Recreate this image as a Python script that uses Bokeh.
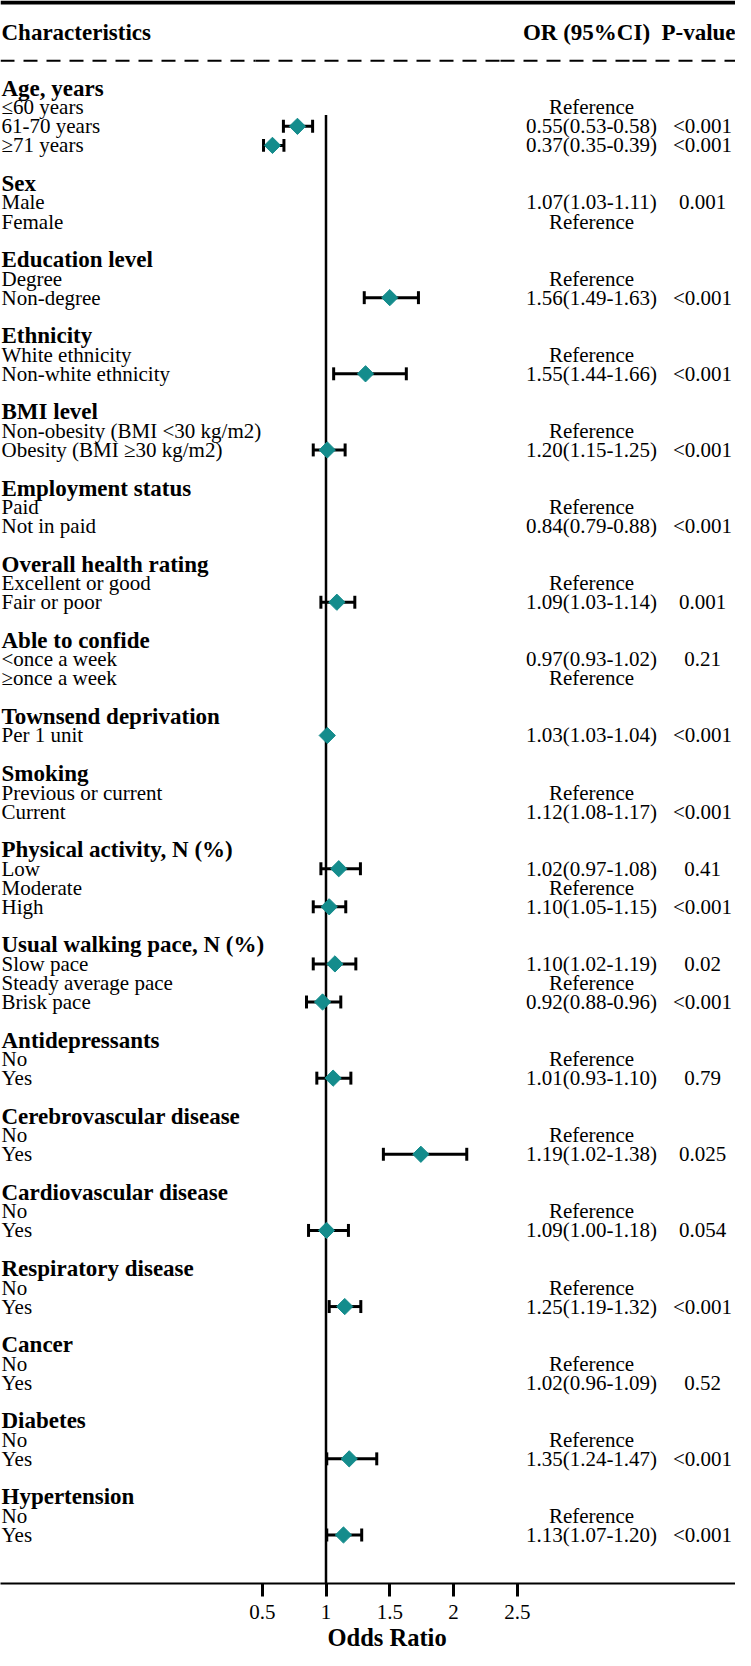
import numpy as np
from bokeh.plotting import figure
from bokeh.models import Range1d, LinearAxis, FixedTicker, Title
from bokeh.core.properties import value
from bokeh.embed import file_html
from bokeh.resources import INLINE

# ---------------- data ----------------
group_titles = [
    "Age, years", "Sex", "Education level", "Ethnicity", "BMI level",
    "Employment status", "Overall health rating", "Able to confide",
    "Townsend deprivation", "Smoking", "Physical activity, N (%)",
    "Usual walking pace, N (%)", "Antidepressants", "Cerebrovascular disease",
    "Cardiovascular disease", "Respiratory disease", "Cancer", "Diabetes",
    "Hypertension",
]
group_sizes = [3, 2, 2, 2, 2, 2, 2, 2, 1, 2, 3, 3, 2, 2, 2, 2, 2, 2, 2]

item_labels = [
    "≤60 years", "61-70 years", "≥71 years",
    "Male", "Female",
    "Degree", "Non-degree",
    "White ethnicity", "Non-white ethnicity",
    "Non-obesity (BMI <30 kg/m2)", "Obesity (BMI ≥30 kg/m2)",
    "Paid", "Not in paid",
    "Excellent or good", "Fair or poor",
    "<once a week", "≥once a week",
    "Per 1 unit",
    "Previous or current", "Current",
    "Low", "Moderate", "High",
    "Slow pace", "Steady average pace", "Brisk pace",
    "No", "Yes",
    "No", "Yes",
    "No", "Yes",
    "No", "Yes",
    "No", "Yes",
    "No", "Yes",
    "No", "Yes",
]

or_texts = [
    "Reference", "0.55(0.53-0.58)", "0.37(0.35-0.39)",
    "1.07(1.03-1.11)", "Reference",
    "Reference", "1.56(1.49-1.63)",
    "Reference", "1.55(1.44-1.66)",
    "Reference", "1.20(1.15-1.25)",
    "Reference", "0.84(0.79-0.88)",
    "Reference", "1.09(1.03-1.14)",
    "0.97(0.93-1.02)", "Reference",
    "1.03(1.03-1.04)",
    "Reference", "1.12(1.08-1.17)",
    "1.02(0.97-1.08)", "Reference", "1.10(1.05-1.15)",
    "1.10(1.02-1.19)", "Reference", "0.92(0.88-0.96)",
    "Reference", "1.01(0.93-1.10)",
    "Reference", "1.19(1.02-1.38)",
    "Reference", "1.09(1.00-1.18)",
    "Reference", "1.25(1.19-1.32)",
    "Reference", "1.02(0.96-1.09)",
    "Reference", "1.35(1.24-1.47)",
    "Reference", "1.13(1.07-1.20)",
]

p_values = [
    "", "<0.001", "<0.001",
    "0.001", "",
    "", "<0.001",
    "", "<0.001",
    "", "<0.001",
    "", "<0.001",
    "", "0.001",
    "0.21", "",
    "<0.001",
    "", "<0.001",
    "0.41", "", "<0.001",
    "0.02", "", "<0.001",
    "", "0.79",
    "", "0.025",
    "", "0.054",
    "", "<0.001",
    "", "0.52",
    "", "<0.001",
    "", "<0.001",
]

nan = float("nan")
# plotted marker positions, as drawn in the picture
plot_est = [
    nan, 0.776, 0.58,
    nan, nan,
    nan, 1.50,
    nan, 1.31,
    nan, 1.01,
    nan, nan,
    nan, 1.085,
    nan, nan,
    1.01,
    nan, nan,
    1.10, nan, 1.025,
    1.07, nan, 0.973,
    nan, 1.056,
    nan, 1.744,
    nan, 1.004,
    nan, 1.147,
    nan, nan,
    nan, 1.182,
    nan, 1.137,
]
plot_lo = [
    nan, 0.666, 0.51,
    nan, nan,
    nan, 1.30,
    nan, 1.06,
    nan, 0.90,
    nan, nan,
    nan, 0.96,
    nan, nan,
    1.01,
    nan, nan,
    0.96, nan, 0.90,
    0.90, nan, 0.847,
    nan, 0.928,
    nan, 1.45,
    nan, 0.863,
    nan, 1.025,
    nan, nan,
    nan, 1.006,
    nan, 1.006,
]
plot_hi = [
    nan, 0.895, 0.67,
    nan, nan,
    nan, 1.725,
    nan, 1.63,
    nan, 1.15,
    nan, nan,
    nan, 1.226,
    nan, nan,
    1.01,
    nan, nan,
    1.27, nan, 1.155,
    1.234, nan, 1.116,
    nan, 1.195,
    nan, 2.104,
    nan, 1.176,
    nan, 1.273,
    nan, nan,
    nan, 1.398,
    nan, 1.28,
]

tick_values = [0.5, 1, 1.5, 2, 2.5]
tick_labels = ["0.5", "1", "1.5", "2", "2.5"]

# ---------------- layout ----------------
W, H = 735, 1650
PX_PER_OR = 127.5          # pixels per odds-ratio unit
ONE_FIG_X = 325.5          # figure x of OR = 1
X0 = 1 - ONE_FIG_X / PX_PER_OR
X1 = X0 + W / PX_PER_OR

ROW0 = 87.8                # reference y of row 0
PITCH = 19.15              # reference row pitch


def xf(fx):
    """figure pixel x -> data x"""
    return X0 + fx / PX_PER_OR


def yr(py):
    """reference pixel y -> row units"""
    return (py - ROW0) / PITCH


Y_TOP = yr(-0.5)
Y_BOT = yr(1592)

FONT = value("Liberation Serif")
TEAL = "#148C8C"
REG = "21px"
BOLD = "23px"

title_rows, item_rows = [], []
r = 0
for size in group_sizes:
    title_rows.append(r)
    r += 1
    for _ in range(size):
        item_rows.append(r)
        r += 1
    r += 1

p = figure(width=W, height=H, x_range=Range1d(X0, X1), y_range=Range1d(Y_BOT, Y_TOP),
           x_axis_location=None, y_axis_location=None, toolbar_location=None,
           output_backend="svg", min_border=0, outline_line_color=None,
           background_fill_color="white", border_fill_color="white")
p.grid.grid_line_color = None

LABEL_X = xf(1)
OR_X = xf(591)
P_X = xf(702)

# header
p.text(x=[LABEL_X], y=[yr(32)], text=["Characteristics"], text_font=FONT,
       text_font_style="bold", text_font_size=BOLD, text_baseline="middle",
       text_align="left")
p.text(x=[xf(586)], y=[yr(32)], text=["OR (95%CI)"], text_font=FONT,
       text_font_style="bold", text_font_size=BOLD, text_baseline="middle",
       text_align="center")
p.text(x=[xf(698)], y=[yr(32)], text=["P-value"], text_font=FONT,
       text_font_style="bold", text_font_size=BOLD, text_baseline="middle",
       text_align="center")

# top rule and dashed separator
p.segment(x0=[X0], x1=[X1], y0=[yr(1.5)], y1=[yr(1.5)], line_color="black", line_width=4)
dash_bounds = [0, 255, 500, 632, 735]
p.segment(x0=[xf(b) for b in dash_bounds[:-1]], x1=[xf(b) for b in dash_bounds[1:]],
          y0=[yr(60)] * 4, y1=[yr(60)] * 4, line_color="black", line_width=2,
          line_dash="14 9")

# group titles and item labels
p.text(x=[LABEL_X] * len(title_rows), y=title_rows, text=group_titles, text_font=FONT,
       text_font_style="bold", text_font_size=BOLD, text_baseline="middle",
       text_align="left")
p.text(x=[LABEL_X] * len(item_rows), y=item_rows, text=item_labels, text_font=FONT,
       text_font_size=REG, text_baseline="middle", text_align="left")
p.text(x=[OR_X] * len(item_rows), y=item_rows, text=or_texts, text_font=FONT,
       text_font_size=REG, text_baseline="middle", text_align="center")
p.text(x=[P_X] * len(item_rows), y=item_rows, text=p_values, text_font=FONT,
       text_font_size=REG, text_baseline="middle", text_align="center")

# forest
est = np.array(plot_est)
lo = np.array(plot_lo)
hi = np.array(plot_hi)
rows = np.array(item_rows, dtype=float)
m = ~np.isnan(est)

p.segment(x0=[1], x1=[1], y0=[rows[m].min() - 0.6], y1=[Y_BOT], line_color="black",
          line_width=2.5)

CAP = 0.34
p.segment(x0=lo[m], x1=hi[m], y0=rows[m], y1=rows[m], line_color="black", line_width=3)
p.segment(x0=lo[m], x1=lo[m], y0=rows[m] - CAP, y1=rows[m] + CAP, line_color="black",
          line_width=3)
p.segment(x0=hi[m], x1=hi[m], y0=rows[m] - CAP, y1=rows[m] + CAP, line_color="black",
          line_width=3)
p.scatter(x=est[m], y=rows[m], marker="square", angle=np.pi / 4, size=11.5,
          fill_color=TEAL, line_color=TEAL)

axis = LinearAxis(ticker=FixedTicker(ticks=tick_values),
                  major_label_overrides={float(v): t for v, t in zip(tick_values, tick_labels)})
axis.axis_line_width = 2
axis.axis_line_color = "black"
axis.major_tick_line_width = 3
axis.major_tick_out = 13
axis.major_tick_in = 0
axis.minor_tick_out = 0
axis.minor_tick_in = 0
axis.minor_tick_line_color = None
axis.major_label_text_font = "Liberation Serif"
axis.major_label_text_font_size = REG
axis.major_label_text_color = "black"
axis.major_label_standoff = 8
p.add_layout(axis, "below")

p.add_layout(Title(text="Odds Ratio", align="left", offset=327, standoff=0,
                   vertical_align="bottom",
                   text_font="Liberation Serif", text_font_size="24.5px",
                   text_font_style="bold", text_color="black"), "below")

open("out.html", "w").write(file_html(p, INLINE))
